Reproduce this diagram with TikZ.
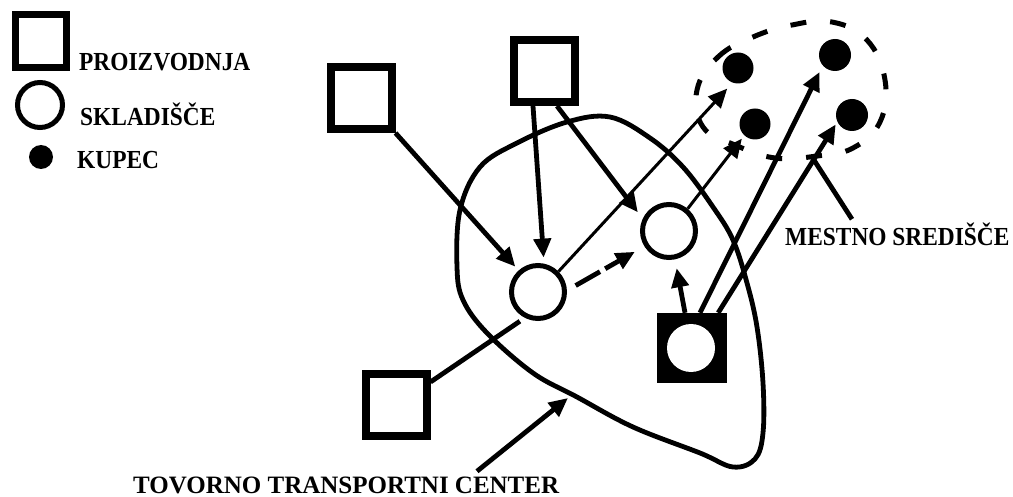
\documentclass[tikz,border=0pt]{standalone}
\usepackage{fontspec}
\setmainfont{Liberation Serif}
\newfontfamily\lblfont{Liberation Serif}[FakeStretch=0.9]
\newfontfamily\capfont{Liberation Serif}
\usetikzlibrary{arrows.meta}

\begin{document}
\begin{tikzpicture}[x=1pt,y=-1pt,
  prod/.style={draw,rectangle,line width=8pt,minimum width=61pt,minimum height=62pt,inner sep=0pt},
  skl/.style={draw,circle,line width=5pt,minimum size=53pt,inner sep=0pt},
  kup/.style={fill,circle,minimum size=31pt,inner sep=0pt},
  lbl/.style={anchor=base west,inner sep=0pt,font=\lblfont\bfseries\fontsize{26}{30}\selectfont},
  heavy/.style={line width=4.8pt},
  light/.style={line width=3pt},
  tip/.style={-{Triangle[length=19pt,width=17pt]}},
  ]
\useasboundingbox (0,0) rectangle (1013,497);

% legend
\node[prod,line width=7pt,minimum width=51pt,minimum height=53pt] (lp) at (41,41) {};
\node[lbl] (lpt) at (79,71) {PROIZVODNJA};
\node[skl,minimum size=45pt] (ls) at (40,105) {};
\node[lbl] (lst) at (80,126) {SKLADIŠČE};
\node[kup,minimum size=24pt] (lk) at (41,157) {};
\node[lbl] (lkt) at (77,169) {KUPEC};

% freight transport centre boundary
\draw[heavy] plot[smooth cycle,tension=0.6] coordinates {
  (610,117) (650,138) (683,167) (713,207) (733,240) (747,283) (757,327)
  (763,383) (763,433) (755,459) (733,467) (700,453) (633,427) (577,397)
  (533,373) (487,333) (463,300) (457,267) (460,210) (480,167) (517,143)
  (567,122)};

% city centre boundary
\draw[line width=5pt,dash pattern=on 16pt off 24pt] plot[smooth cycle,tension=0.7] coordinates {
  (697,90) (718,57) (753,37) (792,25) (832,22) (867,40) (885,80) (880,122)
  (853,148) (817,156) (775,158) (735,145) (703,127)};

% production sites
\node[prod] (A) at (361,98) {};
\node[prod] (B) at (544,71) {};
\node[prod] (C) at (396,405) {};

% warehouses
\node[skl] (S1) at (538,292) {};
\node[skl] (S2) at (669,231) {};
\node[fill,rectangle,minimum size=70pt,inner sep=0pt] (D) at (692,348) {};
\node[circle,fill=white,minimum size=48pt,inner sep=0pt] (Dc) at (691,348) {};

% customers
\node[kup] (K1) at (738,68) {};
\node[kup] (K2) at (755,124) {};
\node[kup,minimum size=32pt] (K3) at (835,55) {};
\node[kup,minimum size=32pt] (K4) at (852,115) {};

% flows
\draw[heavy,tip,shorten >=5pt] (A.south east) -- (S1);
\draw[heavy,tip,shorten >=6pt] ([xshift=-11pt]B.south) -- (S1.78);
\draw[heavy,tip,shorten >=8pt] ([xshift=13pt]B.south) -- (S2.155);
\draw[heavy,shorten >=6pt] ([yshift=23pt]C.east) -- (S1.243);
\draw[heavy,tip,dash pattern=on 28pt off 6pt,shorten <=10pt,shorten >=11pt] (S1.3) -- (S2.212);
\draw[light,tip,shorten >=8pt] (S1.45) -- (K1.250);
\draw[light,tip,shorten >=4pt] (S2.50) -- (K2.227);
\draw[heavy,tip,shorten >=9pt] ([xshift=-7pt]D.north) -- (S2.282);
\draw[heavy,tip,shorten >=7pt] ([xshift=8pt]D.north) -- (K3.221);
\draw[heavy,tip,shorten >=3pt] ([xshift=-9pt]D.north east) -- (K4.205);

% labels with pointers
\node[lbl] (M) at (785,246) {MESTNO SREDIŠČE};
\coordinate (mc) at (812,157);
\draw[heavy] ([xshift=67pt,yshift=4pt]M.north west) -- (mc);

\node[lbl,font=\capfont\bfseries\fontsize{25}{30}\selectfont] (T) at (133,493) {TOVORNO TRANSPORTNI CENTER};
\coordinate (tc) at (568,398);
\draw[heavy,tip] ([xshift=344pt,yshift=5pt]T.north west) -- (tc);
\end{tikzpicture}
\end{document}
